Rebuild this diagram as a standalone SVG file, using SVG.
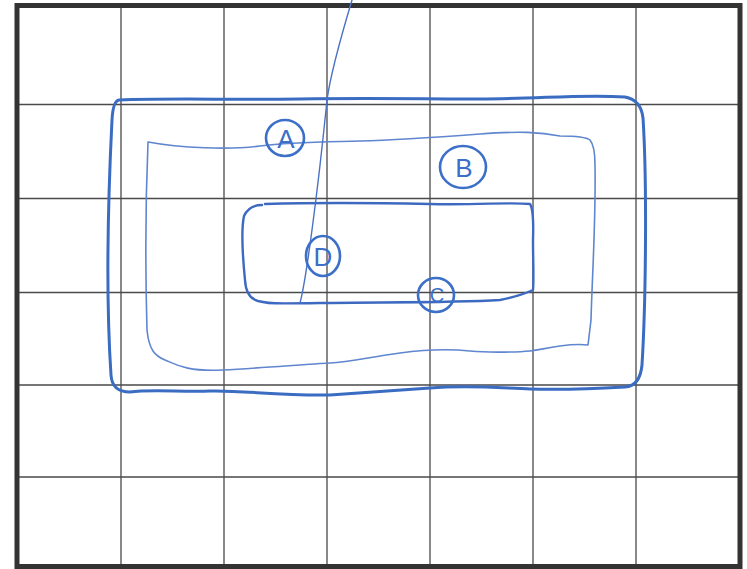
<svg xmlns="http://www.w3.org/2000/svg" width="747" height="569" viewBox="0 0 747 569">
<style>
.grid{stroke:#4a4a4a;stroke-width:1.3;fill:none}
.frame{stroke:#333;stroke-width:5;fill:none}
.pen{fill:none;stroke-linecap:round;stroke-linejoin:round}
.outer{stroke:#3a6cc2;stroke-width:3}
.mid{stroke:#5f86cf;stroke-width:1.6}
.inner{stroke:#3d6ac0;stroke-width:2.4}
.dline{stroke:#4a72c4;stroke-width:1.4}
.ring{fill:none;stroke:#3b6fc8;stroke-width:2.6}
.lbl{font-family:"Liberation Sans",Arial,sans-serif;fill:#3b6fc8;text-anchor:middle}
</style>
<rect x="0" y="0" width="747" height="569" fill="#fff"/>
<g id="grid">
<path class="grid" d="M121 5V567M224 5V567M327 5V567M430 5V567M533 5V567M636 5V567"/>
<path class="grid" d="M17 104.5H740M17 198.5H740M17 292.5H740M17 385H740M17 477H740"/>
<rect class="frame" x="17" y="5.5" width="723" height="561"/>
</g>
<g id="region-A">
<path class="pen outer" d="M119 100 C170 98 230 100 300 99 S420 99 480 99 S580 94 625 97 Q641 100 643 118 C647 180 646 300 642 365 Q640 386 625 387 C590 389 560 390 530 389 S470 385 430 388 S360 393 330 395 C280 396 240 390 210 391 S150 389 130 392 Q112 392 111 375 C106 300 108 200 112 120 Q113 101 119 100 Z"/>
</g>
<g id="region-B">
<path class="pen mid" d="M148 142 C180 148 230 150 260 146 S320 142 360 141 S440 137 480 134 S540 132 560 136 Q585 136 590 140 Q595 146 595 165 C596 220 592 280 591 320 L588 345 C580 344 575 344 560 346 S540 350 530 351 S490 353 470 351 S430 349 400 353 S350 362 330 363 S260 368 223 370 S175 364 165 360 S149 350 147 330 C145 260 146 190 148 142"/>
</g>
<g id="region-C">
<path class="pen inner" d="M265 204 C300 203 380 203 430 204 S510 202 530 204 Q534 210 533 240 C533 260 534 280 533 290 Q520 296 500 300 C450 303 380 302 320 303 S270 303 258 301 Q246 298 245 280 C243 260 241 230 244 216 Q249 205 262 205"/>
</g>
<g id="connectors">
<path id="line-D" class="pen dline" d="M352 0 C343 30 331 70 327 100 C322 150 316 200 312 230 C308 260 304 288 300 303"/>
</g>
<g id="label-A">
<ellipse class="ring" cx="285" cy="138" rx="19" ry="18"/>
<text class="lbl" x="286" y="148" font-size="26">A</text>
</g>
<g id="label-B">
<ellipse class="ring" cx="463" cy="167" rx="23" ry="21"/>
<text class="lbl" x="464" y="177" font-size="26">B</text>
</g>
<g id="label-D">
<ellipse class="ring" cx="323" cy="256" rx="17" ry="20"/>
<text class="lbl" x="323" y="266" font-size="26">D</text>
</g>
<g id="label-C">
<ellipse class="ring" cx="436" cy="295" rx="18" ry="17"/>
<text class="lbl" x="437" y="302" font-size="20">C</text>
</g>
</svg>
